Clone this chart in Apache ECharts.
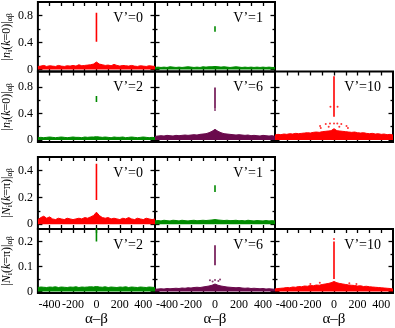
<!DOCTYPE html>
<html>
<head>
<meta charset="utf-8">
<script src="https://cdn.jsdelivr.net/npm/echarts@6/dist/echarts.min.js"></script>
<style>
html,body{margin:0;padding:0;background:#fff;}
#c{width:395px;height:328px;}
</style>
</head>
<body>
<div id="c"></div>
<script>
// ---------- data ----------
const BAND_X = [-500,-475,-450,-425,-400,-375,-350,-325,-300,-275,-250,-225,-200,-175,-150,-125,-100,-75,-50,-25,0,25,50,75,100,125,150,175,200,225,250,275,300,325,350,375,400,425,450,475,500];

// |n_i(k=0)|_ab
const N0_V0_BAND = [0.045,0.05,0.06,0.045,0.055,0.05,0.045,0.06,0.05,0.045,0.055,0.05,0.06,0.05,0.07,0.055,0.06,0.065,0.07,0.08,0.11,0.08,0.07,0.06,0.065,0.055,0.075,0.06,0.05,0.06,0.055,0.05,0.06,0.05,0.045,0.055,0.05,0.045,0.055,0.05,0.045];
const N0_V1_BAND = [0.03,0.035,0.03,0.035,0.03,0.04,0.035,0.03,0.035,0.03,0.035,0.04,0.035,0.03,0.035,0.03,0.04,0.035,0.04,0.04,0.045,0.04,0.035,0.04,0.035,0.03,0.035,0.04,0.035,0.03,0.035,0.03,0.035,0.03,0.035,0.03,0.035,0.03,0.035,0.03,0.03];
const N0_V2_BAND = [0.035,0.04,0.035,0.04,0.045,0.04,0.035,0.04,0.045,0.04,0.035,0.04,0.045,0.04,0.04,0.035,0.045,0.04,0.045,0.045,0.05,0.045,0.04,0.045,0.04,0.035,0.045,0.04,0.04,0.045,0.035,0.04,0.045,0.04,0.035,0.04,0.045,0.04,0.035,0.04,0.035];
const N0_V6_BAND = [0.055,0.06,0.065,0.06,0.07,0.065,0.06,0.07,0.065,0.07,0.075,0.07,0.075,0.08,0.075,0.085,0.09,0.095,0.11,0.13,0.16,0.13,0.11,0.095,0.09,0.085,0.08,0.075,0.08,0.075,0.07,0.075,0.065,0.07,0.065,0.06,0.07,0.065,0.06,0.065,0.055];
const N0_V10_BAND = [0.075,0.085,0.08,0.09,0.085,0.095,0.09,0.1,0.095,0.1,0.105,0.11,0.105,0.115,0.12,0.115,0.125,0.13,0.135,0.14,0.17,0.14,0.135,0.13,0.125,0.12,0.115,0.12,0.11,0.105,0.11,0.1,0.095,0.1,0.09,0.095,0.085,0.09,0.08,0.085,0.075];

// |N_i(k=pi)|_ab
const NPI_V0_BAND = [0.035,0.05,0.06,0.045,0.055,0.04,0.035,0.045,0.04,0.035,0.045,0.04,0.035,0.04,0.045,0.04,0.05,0.045,0.055,0.065,0.09,0.065,0.05,0.045,0.05,0.04,0.045,0.04,0.035,0.045,0.04,0.05,0.04,0.035,0.045,0.04,0.035,0.045,0.04,0.035,0.04];
const NPI_V1_BAND = [0.025,0.028,0.025,0.03,0.027,0.025,0.03,0.028,0.025,0.03,0.027,0.025,0.028,0.03,0.026,0.028,0.03,0.028,0.03,0.032,0.035,0.032,0.03,0.028,0.03,0.027,0.028,0.03,0.026,0.028,0.025,0.03,0.027,0.025,0.028,0.026,0.025,0.028,0.025,0.027,0.025];
const NPI_V2_BAND = [0.016,0.018,0.017,0.016,0.018,0.017,0.019,0.016,0.018,0.017,0.016,0.018,0.017,0.019,0.016,0.018,0.017,0.018,0.019,0.018,0.02,0.018,0.017,0.019,0.016,0.018,0.017,0.016,0.018,0.017,0.019,0.016,0.018,0.017,0.016,0.018,0.017,0.016,0.018,0.017,0.016];
const NPI_V6_BAND = [0.009,0.01,0.011,0.01,0.012,0.011,0.012,0.013,0.012,0.014,0.013,0.015,0.014,0.016,0.017,0.016,0.018,0.02,0.022,0.025,0.03,0.025,0.022,0.02,0.018,0.017,0.016,0.015,0.016,0.014,0.013,0.014,0.012,0.013,0.012,0.011,0.012,0.01,0.011,0.01,0.009];
const NPI_V10_BAND = [0.01,0.012,0.013,0.014,0.016,0.015,0.018,0.017,0.02,0.019,0.022,0.021,0.024,0.023,0.026,0.025,0.028,0.03,0.032,0.035,0.04,0.035,0.032,0.03,0.028,0.026,0.025,0.024,0.022,0.023,0.02,0.021,0.019,0.018,0.017,0.016,0.015,0.014,0.013,0.012,0.01];

// diagonal (alpha-beta = 0) ranges [low, high]
const N0_V0_DIAG = [0.41, 0.84];
const N0_V1_DIAG = [0.56, 0.64];
const N0_V2_DIAG = [0.57, 0.66];
const N0_V6_DIAG = [0.47, 0.79];
const N0_V10_DIAG = [0.35, 0.96];
const NPI_V0_DIAG = [0.18, 0.45];
const NPI_V1_DIAG = [0.24, 0.29];
const NPI_V2_DIAG = [0.20, 0.26];
const NPI_V6_DIAG = [0.105, 0.185];
const NPI_V10_DIAG = [0.05, 0.20];

// isolated points [alpha-beta, value]
const N0_V6_DOTS = [[0,0.45]];
const N0_V10_DOTS = [[-30,0.5],[30,0.5],[-118,0.21],[-112,0.18],[-70,0.24],[-34,0.25],[0,0.25],[28,0.25],[62,0.24],[106,0.21],[118,0.18],[-45,0.2],[45,0.2]];
const NPI_V6_DOTS = [[-42,0.045],[-20,0.04],[0,0.046],[28,0.042],[42,0.048]];
const NPI_V10_DOTS = [[0,0.21],[-200,0.03],[190,0.03],[-120,0.035],[130,0.033]];

// labels / ticks
const PANEL_LABELS = ["V’=0","V’=1","V’=2","V’=6","V’=10","V’=0","V’=1","V’=2","V’=6","V’=10"];
const X_LABELS = [-400,-200,0,200,400];
const X_TICKS = [-400,-300,-200,-100,0,100,200,300,400];
const Y_MIN = [-0.03,-0.03,-0.035,-0.006];
const Y_MAX = [1.0,1.03,0.5,0.25];
const Y_LABELS = [[0,0.4,0.8],[0,0.4,0.8],[0,0.2,0.4],[0,0.1,0.2]];
const Y_MINOR = [[0.2,0.6],[0.2,0.6],[0.1,0.3],[0.05,0.15]];

// ---------- layout ----------
const ROW_TOP = [2,71.5,157,229];
const ROW_H = [69.5,70.5,72,64.5];
const COL_LEFT = [36,155,275];
const COL_W = [119,120,118];
const RED = '#ff0000', GREEN = '#008a00', PURPLE = '#6a0a4c';
const FONT = 'Liberation Serif';

const panels = [
  {row:0,col:0,color:RED,band:N0_V0_BAND,diag:N0_V0_DIAG,dots:[]},
  {row:0,col:1,color:GREEN,band:N0_V1_BAND,diag:N0_V1_DIAG,dots:[]},
  {row:1,col:0,color:GREEN,band:N0_V2_BAND,diag:N0_V2_DIAG,dots:[]},
  {row:1,col:1,color:PURPLE,band:N0_V6_BAND,diag:N0_V6_DIAG,dots:N0_V6_DOTS},
  {row:1,col:2,color:RED,band:N0_V10_BAND,diag:N0_V10_DIAG,dots:N0_V10_DOTS},
  {row:2,col:0,color:RED,band:NPI_V0_BAND,diag:NPI_V0_DIAG,dots:[]},
  {row:2,col:1,color:GREEN,band:NPI_V1_BAND,diag:NPI_V1_DIAG,dots:[]},
  {row:3,col:0,color:GREEN,band:NPI_V2_BAND,diag:NPI_V2_DIAG,dots:[]},
  {row:3,col:1,color:PURPLE,band:NPI_V6_BAND,diag:NPI_V6_DIAG,dots:NPI_V6_DOTS},
  {row:3,col:2,color:RED,band:NPI_V10_BAND,diag:NPI_V10_DIAG,dots:NPI_V10_DOTS}
];

const Y_NAMES = [
  '|{i|n}{s|i}({i|k}=0)|{s|αβ}',
  '|{i|n}{s|i}({i|k}=0)|{s|αβ}',
  '|{i|N}{s|i}({i|k}=π)|{s|αβ}',
  '|{i|N}{s|i}({i|k}=π)|{s|αβ}'
];

const grid = [], xAxis = [], yAxis = [], series = [], graphic = [];
const tickBase = {inside:true, lineStyle:{color:'#000', width:1.3}};
const noLine = {show:false, onZero:false};

panels.forEach((p, i) => {
  grid.push({left:COL_LEFT[p.col], top:ROW_TOP[p.row], width:COL_W[p.col], height:ROW_H[p.row],
    show:true, borderColor:'#000', borderWidth:2, backgroundColor:'transparent', containLabel:false});
  const isBottom = p.row === 3;
  const isLeft = p.col === 0;
  xAxis.push({type:'value', gridIndex:i, min:-500, max:500, position:'bottom',
    axisLine:noLine, splitLine:{show:false},
    axisTick:Object.assign({length:4, customValues:X_TICKS}, tickBase),
    axisLabel:{show:isBottom, customValues:X_LABELS, margin:6, fontFamily:FONT, fontSize:12, color:'#000'},
    name:isBottom ? 'α–β' : '', nameLocation:'middle', nameGap:19,
    nameTextStyle:{fontFamily:FONT, fontSize:15, color:'#000'}});
  xAxis.push({type:'value', gridIndex:i, min:-500, max:500, position:'top',
    axisLine:noLine, splitLine:{show:false},
    axisTick:Object.assign({length:4, customValues:X_TICKS}, tickBase),
    axisLabel:{show:false}});
  const r = p.row;
  yAxis.push({type:'value', gridIndex:i, min:Y_MIN[r], max:Y_MAX[r], position:'left',
    axisLine:noLine, splitLine:{show:false},
    axisTick:Object.assign({length:4.5, customValues:Y_LABELS[r]}, tickBase),
    axisLabel:{show:isLeft, customValues:Y_LABELS[r], margin:5, fontFamily:FONT, fontSize:12, color:'#000'},
    name:isLeft ? Y_NAMES[r] : '', nameLocation:'middle', nameRotate:90, nameGap:22,
    nameTextStyle:{fontFamily:FONT, fontSize:12, color:'#000',
      rich:{i:{fontFamily:FONT, fontSize:12, fontStyle:'italic', color:'#000'},
            s:{fontFamily:FONT, fontSize:8, color:'#000', padding:[6,0,0,0]}}}});
  yAxis.push({type:'value', gridIndex:i, min:Y_MIN[r], max:Y_MAX[r], position:'right',
    axisLine:noLine, splitLine:{show:false},
    axisTick:Object.assign({length:4.5, customValues:Y_LABELS[r]}, tickBase),
    axisLabel:{show:false}});
  yAxis.push({type:'value', gridIndex:i, min:Y_MIN[r], max:Y_MAX[r], position:'left',
    axisLine:noLine, splitLine:{show:false},
    axisTick:Object.assign({length:2.5, customValues:Y_MINOR[r]}, tickBase),
    axisLabel:{show:false}});
  yAxis.push({type:'value', gridIndex:i, min:Y_MIN[r], max:Y_MAX[r], position:'right',
    axisLine:noLine, splitLine:{show:false},
    axisTick:Object.assign({length:2.5, customValues:Y_MINOR[r]}, tickBase),
    axisLabel:{show:false}});

  const xi = 2*i, yi = 4*i;
  series.push({type:'line', xAxisIndex:xi, yAxisIndex:yi, data:BAND_X.map((x,k)=>[x, p.band[k]]),
    symbol:'none', lineStyle:{color:p.color, width:1}, areaStyle:{color:p.color, opacity:1},
    silent:true, animation:false, z:2, clip:true});
  series.push({type:'line', xAxisIndex:xi, yAxisIndex:yi, data:[[0,p.diag[0]],[0,p.diag[1]]],
    symbol:'none', lineStyle:{color:p.color, width:1.6}, silent:true, animation:false, z:3, clip:true});
  if (p.dots.length) {
    series.push({type:'scatter', xAxisIndex:xi, yAxisIndex:yi, data:p.dots,
      symbol:'circle', symbolSize:2, itemStyle:{color:p.color}, silent:true, animation:false, z:3});
  }
  graphic.push({type:'text', x:COL_LEFT[p.col]+COL_W[p.col]-12, y:ROW_TOP[p.row]+16, z:10,
    style:{text:PANEL_LABELS[i], align:'right', verticalAlign:'middle',
      font:'14px "Liberation Serif"', fill:'#000'}});
});

const chart = echarts.init(document.getElementById('c'), null, {renderer:'canvas'});
chart.setOption({animation:false, grid, xAxis, yAxis, series, graphic});
</script>
</body>
</html>
